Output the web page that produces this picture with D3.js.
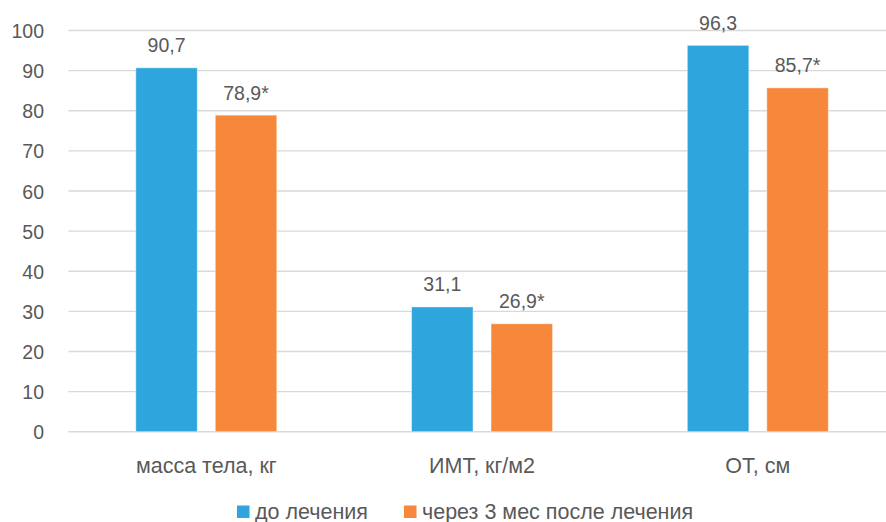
<!DOCTYPE html>
<html>
<head>
<meta charset="utf-8">
<script src="https://cdn.jsdelivr.net/npm/d3@7/dist/d3.min.js"></script>
<style>
  html, body { margin: 0; padding: 0; background: #fff; }
  svg { display: block; }
  text { font-family: "Liberation Sans", Arial, sans-serif; fill: #595959; }
</style>
</head>
<body>
<div id="chart"></div>
<script>
// Показатели до и через 3 месяца после лечения
const categories = ["масса тела, кг", "ИМТ, кг/м2", "ОТ, см"];
const seriesNames = ["до лечения", "через 3 мес после лечения"];
const before = [90.7, 31.1, 96.3];
const after = [78.9, 26.9, 85.7];
const valueLabelsBefore = ["90,7", "31,1", "96,3"];
const valueLabelsAfter = ["78,9*", "26,9*", "85,7*"];
const yTicks = [0, 10, 20, 30, 40, 50, 60, 70, 80, 90, 100];
const colors = ["#2ea6dd", "#f6873b"];

const W = 886, H = 522;
const plot = { left: 68.4, right: 895.7, top: 30.5, bottom: 431.7 };

const svg = d3.select("#chart").append("svg")
  .attr("width", W).attr("height", H);

const y = d3.scaleLinear().domain([0, 100]).range([plot.bottom, plot.top]);
const x0 = d3.scaleBand().domain(categories).range([plot.left, plot.right]).padding(0);
const x1 = d3.scaleBand().domain(seriesNames).range([-70.5, 70.5]).paddingInner(0.226).paddingOuter(0);

// Сетка
svg.append("g").selectAll("line").data(yTicks).join("line")
  .attr("x1", plot.left).attr("x2", W)
  .attr("y1", d => y(d)).attr("y2", d => y(d))
  .attr("stroke", "#d9d9d9").attr("stroke-width", 1.4);

// Подписи оси Y
const yAxis = d3.axisLeft(y).tickValues(yTicks).tickSize(0).tickPadding(0);
const yG = svg.append("g").attr("transform", "translate(44,0)").call(yAxis);
yG.select(".domain").remove();
yG.selectAll("text")
  .attr("font-size", "19.5px")
  .attr("font-family", "Liberation Sans, Arial, sans-serif")
  .attr("fill", "#595959")
  .attr("dy", "0.36em");

// Столбцы
const rows = categories.map((c, i) => ({
  cat: c,
  vals: [
    { s: seriesNames[0], v: before[i], label: valueLabelsBefore[i], color: colors[0] },
    { s: seriesNames[1], v: after[i], label: valueLabelsAfter[i], color: colors[1] }
  ]
}));

const groups = svg.append("g").selectAll("g").data(rows).join("g")
  .attr("transform", d => `translate(${x0(d.cat) + x0.bandwidth() / 2},0)`);

groups.selectAll("rect").data(d => d.vals).join("rect")
  .attr("x", d => x1(d.s))
  .attr("width", x1.bandwidth())
  .attr("y", d => y(d.v))
  .attr("height", d => y(0) - y(d.v))
  .attr("fill", d => d.color)
  .attr("stroke", "#ffffff").attr("stroke-opacity", 0.45).attr("stroke-width", 1);

groups.selectAll("text.val").data(d => d.vals).join("text")
  .attr("class", "val")
  .attr("x", d => x1(d.s) + x1.bandwidth() / 2)
  .attr("y", d => y(d.v) - 15.5)
  .attr("text-anchor", "middle")
  .attr("font-size", "19.5px")
  .text(d => d.label);

// Подписи категорий
svg.append("g").selectAll("text").data(categories).join("text")
  .attr("x", d => x0(d) + x0.bandwidth() / 2)
  .attr("y", 472.5)
  .attr("text-anchor", "middle")
  .attr("font-size", "21.5px")
  .text(d => d);

// Легенда
const legendItems = [
  { name: seriesNames[0], color: colors[0], x: 237 },
  { name: seriesNames[1], color: colors[1], x: 404 }
];
const lg = svg.append("g").selectAll("g").data(legendItems).join("g")
  .attr("transform", d => `translate(${d.x},0)`);
lg.append("rect").attr("x", 0).attr("y", 505.5).attr("width", 12.5).attr("height", 12.5)
  .attr("fill", d => d.color);
lg.append("text").attr("x", 18).attr("y", 518.5)
  .attr("font-size", "21.5px")
  .text(d => d.name);
</script>
</body>
</html>
